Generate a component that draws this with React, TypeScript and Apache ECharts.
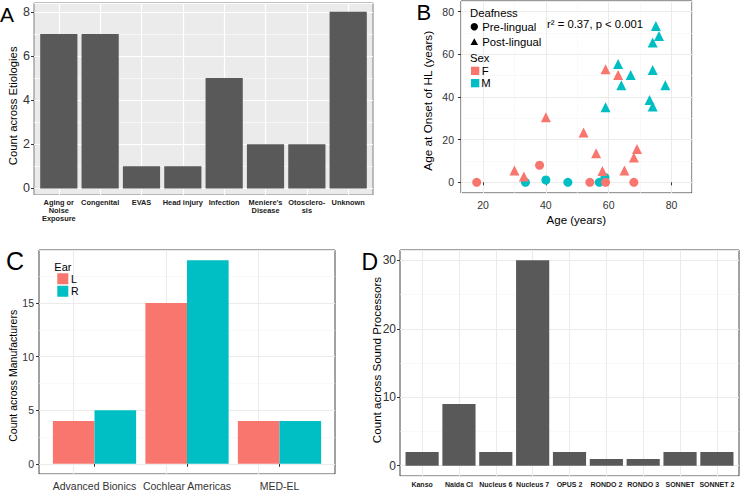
import React, { useEffect, useRef } from "react";
import * as echarts from "echarts";

// ---------- data ----------
const etiologyCategories = [
  "Aging or\nNoise\nExposure",
  "Congenital",
  "EVAS",
  "Head injury",
  "Infection",
  "Meniere's\nDisease",
  "Otosclero-\nsis",
  "Unknown",
];
const etiologyCounts = [7, 7, 1, 1, 5, 2, 2, 8];

const femalePreLingual = [[18, 0], [38, 8], [54, 0], [59, 0], [68, 0]];
const malePreLingual = [[33.5, 0], [40, 1.1], [47, 0], [57, 0], [58.8, 2.3]];
const femalePostLingual = [
  [30, 5.5], [33, 2.7], [40, 30.5], [52, 23.4], [56, 13.6], [58, 5.3],
  [59, 53], [63, 50.3], [65, 5.5], [68, 11.6], [69, 15.6],
];
const malePostLingual = [
  [59, 35.2], [63, 55.5], [64, 45.5], [67, 50.3], [73, 38.6], [74, 35.5],
  [74, 52.7], [74, 65.5], [75, 73.3], [76, 68.6], [78, 45.5],
];

const manufacturers = ["Advanced Bionics", "Cochlear Americas", "MED-EL"];
const leftEarCounts = [4, 15, 4];
const rightEarCounts = [5, 19, 4];

const processors = ["Kanso", "Naida CI", "Nucleus 6", "Nucleus 7", "OPUS 2", "RONDO 2", "RONDO 3", "SONNET", "SONNET 2"];
const processorCounts = [2, 9, 2, 30, 2, 1, 1, 2, 2];

// ---------- styling / layout ----------
const FONT = "'Liberation Sans', Arial, Helvetica, sans-serif";
const RED = "#F8766D";
const TEAL = "#00BFC4";
const BAR = "#595959";
const TICK_TXT = "#333333";

const frameA = { left: 34, top: 3, width: 339, height: 192 };
const frameB = { left: 461, top: 1, width: 231, height: 192 };
const frameC = { left: 39, top: 250, width: 296, height: 224 };
const frameD = { left: 400, top: 250, width: 339, height: 226 };

// ggplot discrete axis spans n + 0.2 bands; inset the bar grid accordingly
function inset(f: any, n: number) {
  const pad = (0.1 * f.width) / (n + 0.2);
  return { left: f.left + pad, top: f.top, width: f.width - 2 * pad, height: f.height };
}

const tick = { show: true, length: 3, lineStyle: { color: "#333", width: 1 } };

function App() {
  const ref = useRef<HTMLDivElement>(null);
  useEffect(() => {
    document.body.style.margin = "0";
    const chart = echarts.init(ref.current as HTMLDivElement, null, { renderer: "svg" });

    const frameGrid = (f: any, bg: string, border: string) => ({
      ...f, show: true, backgroundColor: bg, borderColor: border, borderWidth: 1,
      containLabel: false, outerBoundsMode: "none",
    });
    const plainGrid = (f: any) => ({ ...f, show: false, containLabel: false, outerBoundsMode: "none" });

    const hiddenX = (gi: number) => ({ gridIndex: gi, type: "value", min: 0, max: 1, show: false });
    const hiddenY = (gi: number, min: number, max: number) => ({ gridIndex: gi, type: "value", min, max, show: false });

    const valueY = (gi: number, min: number, max: number, split: number, fontSize: number, major: string, minor: string, majorW: number, minorW: number, margin: number) => ({
      gridIndex: gi, type: "value", min, max, splitNumber: split,
      axisLine: { show: false },
      axisTick: tick,
      axisLabel: { fontSize, color: TICK_TXT, margin, showMinLabel: false, showMaxLabel: false, fontFamily: FONT },
      splitLine: { show: true, lineStyle: { color: major, width: majorW } },
      minorTick: { show: false, splitNumber: 2 },
      minorSplitLine: { show: true, lineStyle: { color: minor, width: minorW } },
    });

    const catX = (gi: number, data: string[], fontSize: number, bold: boolean, margin: number, lineHeight?: number) => ({
      gridIndex: gi, type: "category", data,
      axisLine: { show: false },
      axisTick: { ...tick, alignWithLabel: true },
      axisLabel: {
        interval: 0, fontSize, color: bold ? "#1a1a1a" : TICK_TXT, fontWeight: bold ? "bold" : "normal",
        margin, lineHeight, fontFamily: FONT,
      },
      splitLine: { show: false },
    });

    const vLines = (cats: string[], color: string, width: number) => ({
      z: 1, silent: true, symbol: ["none", "none"], label: { show: false },
      lineStyle: { color, width, type: "solid" },
      emphasis: { disabled: true },
      data: cats.map((c) => ({ xAxis: c })),
    });

    const option: any = {
      animation: false,
      textStyle: { fontFamily: FONT },
      grid: [
        frameGrid(frameA, "#EBEBEB", "#7f7f7f"),
        plainGrid(inset(frameA, etiologyCategories.length)),
        frameGrid(frameB, "#ffffff", "#333333"),
        frameGrid(frameC, "#ffffff", "#444444"),
        plainGrid(inset(frameC, manufacturers.length)),
        frameGrid(frameD, "#ffffff", "#444444"),
        plainGrid(inset(frameD, processors.length)),
      ],
      xAxis: [
        hiddenX(0),
        catX(1, etiologyCategories, 7.4, true, 4, 7.6),
        {
          gridIndex: 2, type: "value", min: 13, max: 86.5, splitNumber: 3,
          axisLine: { show: false }, axisTick: tick,
          axisLabel: { fontSize: 10.5, color: TICK_TXT, margin: 6, showMinLabel: false, showMaxLabel: false },
          splitLine: { show: true, lineStyle: { color: "#ebebeb", width: 1 } },
          minorTick: { show: false, splitNumber: 2 },
          minorSplitLine: { show: true, lineStyle: { color: "#f5f5f5", width: 0.6 } },
        },
        hiddenX(3),
        catX(4, manufacturers, 10.5, false, 6),
        hiddenX(5),
        catX(6, processors, 7, true, 5),
      ],
      yAxis: [
        valueY(0, -0.3, 8.4, 4, 12.5, "#ffffff", "#ffffff", 1.2, 0.6, 4),
        hiddenY(1, -0.3, 8.4),
        valueY(2, -5, 85, 4, 10.5, "#ebebeb", "#f5f5f5", 1, 0.6, 7),
        valueY(3, -0.95, 19.95, 4, 10.5, "#ebebeb", "#f5f5f5", 1, 0.6, 5),
        hiddenY(4, -0.95, 19.95),
        valueY(5, -1.5, 31.5, 3, 12, "#ebebeb", "#f5f5f5", 1, 0.6, 4),
        hiddenY(6, -1.5, 31.5),
      ],
      series: [
        {
          type: "bar", xAxisIndex: 1, yAxisIndex: 1, data: etiologyCounts, z: 2,
          barCategoryGap: "10%", itemStyle: { color: BAR }, silent: true,
          markLine: vLines(etiologyCategories, "#ffffff", 1.2),
        },
        {
          type: "scatter", xAxisIndex: 2, yAxisIndex: 2, data: malePreLingual, symbol: "circle",
          symbolSize: 9, itemStyle: { color: TEAL, opacity: 1 }, silent: true,
        },
        {
          type: "scatter", xAxisIndex: 2, yAxisIndex: 2, data: femalePreLingual, symbol: "circle",
          symbolSize: 9, itemStyle: { color: RED, opacity: 1 }, silent: true,
        },
        {
          type: "scatter", xAxisIndex: 2, yAxisIndex: 2, data: malePostLingual, symbol: "triangle",
          symbolSize: 10, itemStyle: { color: TEAL, opacity: 1 }, silent: true,
        },
        {
          type: "scatter", xAxisIndex: 2, yAxisIndex: 2, data: femalePostLingual, symbol: "triangle",
          symbolSize: 10, itemStyle: { color: RED, opacity: 1 }, silent: true,
        },
        {
          name: "L", type: "bar", xAxisIndex: 4, yAxisIndex: 4, data: leftEarCounts, z: 2,
          barCategoryGap: "10%", barGap: "0%", itemStyle: { color: RED }, silent: true,
          markLine: vLines(manufacturers, "#ebebeb", 1),
        },
        {
          name: "R", type: "bar", xAxisIndex: 4, yAxisIndex: 4, data: rightEarCounts, z: 2,
          barCategoryGap: "10%", barGap: "0%", itemStyle: { color: TEAL }, silent: true,
        },
        {
          type: "bar", xAxisIndex: 6, yAxisIndex: 6, data: processorCounts, z: 2,
          barCategoryGap: "10%", itemStyle: { color: BAR }, silent: true,
          markLine: vLines(processors, "#ebebeb", 1),
        },
      ],
      graphic: [
        // panel letters
        { type: "text", x: 0, y: 14.2, z: 10, style: { text: "A", fontSize: 21, fontFamily: FONT, fill: "#000", align: "left", verticalAlign: "middle" } },
        { type: "text", x: 416.5, y: 12.8, z: 10, style: { text: "B", fontSize: 22, fontFamily: FONT, fill: "#000", align: "left", verticalAlign: "middle" } },
        { type: "text", x: 6, y: 260.8, z: 10, style: { text: "C", fontSize: 25, fontFamily: FONT, fill: "#000", align: "left", verticalAlign: "middle" } },
        { type: "text", x: 361.5, y: 261.7, z: 10, style: { text: "D", fontSize: 23, fontFamily: FONT, fill: "#000", align: "left", verticalAlign: "middle" } },
        // axis titles
        { type: "text", x: 13.3, y: 105.8, rotation: Math.PI / 2, z: 10, style: { text: "Count across Etiologies", fontSize: 11.3, fontFamily: FONT, fill: "#000", align: "center", verticalAlign: "middle" } },
        { type: "text", x: 428.3, y: 100.8, rotation: Math.PI / 2, z: 10, style: { text: "Age at Onset of HL (years)", fontSize: 11.8, fontFamily: FONT, fill: "#000", align: "center", verticalAlign: "middle" } },
        { type: "text", x: 576.3, y: 220, z: 10, style: { text: "Age (years)", fontSize: 11.5, fontFamily: FONT, fill: "#000", align: "center", verticalAlign: "middle" } },
        { type: "text", x: 13.3, y: 375.8, rotation: Math.PI / 2, z: 10, style: { text: "Count across Manufacturers", fontSize: 10.5, fontFamily: FONT, fill: "#000", align: "center", verticalAlign: "middle" } },
        { type: "text", x: 376.7, y: 360, rotation: Math.PI / 2, z: 10, style: { text: "Count across Sound Processors", fontSize: 11.6, fontFamily: FONT, fill: "#000", align: "center", verticalAlign: "middle" } },
        // B annotation
        { type: "text", x: 547, y: 24, z: 10, style: { text: "r² = 0.37, p < 0.001", fontSize: 11.3, fontFamily: FONT, fill: "#000", align: "left", verticalAlign: "middle" } },
        // B legend
        { type: "text", x: 470, y: 13.3, z: 10, style: { text: "Deafness", fontSize: 11.3, fontFamily: FONT, fill: "#000", align: "left", verticalAlign: "middle" } },
        { type: "circle", z: 10, shape: { cx: 474.3, cy: 26.7, r: 3.7 }, style: { fill: "#000" } },
        { type: "text", x: 482.3, y: 27, z: 10, style: { text: "Pre-lingual", fontSize: 11.3, fontFamily: FONT, fill: "#000", align: "left", verticalAlign: "middle" } },
        { type: "polygon", z: 10, shape: { points: [[474.3, 38.2], [470.5, 45], [478.1, 45]] }, style: { fill: "#000" } },
        { type: "text", x: 482.3, y: 42, z: 10, style: { text: "Post-lingual", fontSize: 11.3, fontFamily: FONT, fill: "#000", align: "left", verticalAlign: "middle" } },
        { type: "text", x: 470, y: 58.3, z: 10, style: { text: "Sex", fontSize: 11.3, fontFamily: FONT, fill: "#000", align: "left", verticalAlign: "middle" } },
        { type: "rect", z: 10, shape: { x: 471, y: 66.7, width: 8.3, height: 8.3 }, style: { fill: RED } },
        { type: "text", x: 481.7, y: 71, z: 10, style: { text: "F", fontSize: 11.3, fontFamily: FONT, fill: "#000", align: "left", verticalAlign: "middle" } },
        { type: "rect", z: 10, shape: { x: 471, y: 79, width: 8.3, height: 8.3 }, style: { fill: TEAL } },
        { type: "text", x: 481.3, y: 83.2, z: 10, style: { text: "M", fontSize: 11.3, fontFamily: FONT, fill: "#000", align: "left", verticalAlign: "middle" } },
        // C legend
        { type: "text", x: 54.3, y: 266.7, z: 10, style: { text: "Ear", fontSize: 11, fontFamily: FONT, fill: "#000", align: "left", verticalAlign: "middle" } },
        { type: "rect", z: 10, shape: { x: 57.3, y: 273.3, width: 11, height: 11 }, style: { fill: RED } },
        { type: "text", x: 71, y: 278.8, z: 10, style: { text: "L", fontSize: 10.5, fontFamily: FONT, fill: "#000", align: "left", verticalAlign: "middle" } },
        { type: "rect", z: 10, shape: { x: 57.3, y: 285.7, width: 11, height: 11 }, style: { fill: TEAL } },
        { type: "text", x: 71, y: 291.4, z: 10, style: { text: "R", fontSize: 10.5, fontFamily: FONT, fill: "#000", align: "left", verticalAlign: "middle" } },
      ],
    };

    chart.setOption(option);
    return () => chart.dispose();
  }, []);

  return <div ref={ref} style={{ width: 740, height: 490 }} />;
}

export default App;
